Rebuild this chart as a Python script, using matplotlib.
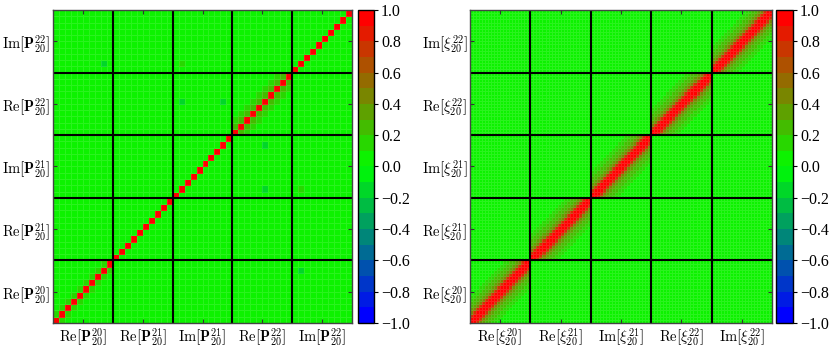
import numpy as np
import matplotlib
matplotlib.use("Agg")
import matplotlib.pyplot as plt
from matplotlib.colors import LinearSegmentedColormap, Normalize

plt.rcParams['mathtext.fontset'] = 'cm'
plt.rcParams['font.family'] = ['Liberation Serif', 'DejaVu Serif']

# ---------------- data ----------------
n_blocks = 5
left_cells_per_block = 10
right_cells_per_block = 20

left_labels = [r'$\mathrm{Re}\left[\mathbf{P}_{20}^{20}\right]$',
               r'$\mathrm{Re}\left[\mathbf{P}_{20}^{21}\right]$',
               r'$\mathrm{Im}\left[\mathbf{P}_{20}^{21}\right]$',
               r'$\mathrm{Re}\left[\mathbf{P}_{20}^{22}\right]$',
               r'$\mathrm{Im}\left[\mathbf{P}_{20}^{22}\right]$']
right_labels = [r'$\mathrm{Re}\left[\xi_{20}^{20}\right]$',
                r'$\mathrm{Re}\left[\xi_{20}^{21}\right]$',
                r'$\mathrm{Im}\left[\xi_{20}^{21}\right]$',
                r'$\mathrm{Re}\left[\xi_{20}^{22}\right]$',
                r'$\mathrm{Im}\left[\xi_{20}^{22}\right]$']

# left matrix: diagonal = 1, per-block near-diagonal correlations (lag1, lag2)
left_block_lag1 = [0.12, 0.05, 0.05, 0.2, 0.08]
left_block_lag2 = [0.07, 0.02, 0.02, 0.11, 0.03]
# isolated off-diagonal entries (row, col, value), mirrored
left_spots_row = [41, 35, 41, 28]
left_spots_col = [8, 21, 21, 35]
left_spots_val = [-0.13, -0.12, 0.11, -0.11]

# right matrix: within-block correlation as function of lag
right_lag_corr = [1.0, 0.92, 0.72, 0.48, 0.34, 0.26, 0.2, 0.15, 0.11,
                  0.08, 0.05, 0.03, 0.01, 0.0]

ticks_cbar = [-1.0, -0.8, -0.6, -0.4, -0.2, 0.0, 0.2, 0.4, 0.6, 0.8, 1.0]


def build_left():
    n = n_blocks * left_cells_per_block
    m = np.zeros((n, n))
    for b in range(n_blocks):
        s = b * left_cells_per_block
        for k in range(left_cells_per_block):
            i = s + k
            m[i, i] = 1.0
            if k + 1 < left_cells_per_block:
                m[i, i + 1] = m[i + 1, i] = left_block_lag1[b]
            if k + 2 < left_cells_per_block:
                m[i, i + 2] = m[i + 2, i] = left_block_lag2[b]
    for r, c, v in zip(left_spots_row, left_spots_col, left_spots_val):
        m[r, c] = v
        m[c, r] = v
    return m


def build_right():
    n = n_blocks * right_cells_per_block
    m = np.zeros((n, n))
    L = len(right_lag_corr)
    for b in range(n_blocks):
        s = b * right_cells_per_block
        for i in range(right_cells_per_block):
            for j in range(right_cells_per_block):
                lag = abs(i - j)
                if lag < L:
                    m[s + i, s + j] = right_lag_corr[lag]
    return m


cmap = LinearSegmentedColormap.from_list('bgr', [(0, 0, 1), (0, 1, 0), (1, 0, 0)], N=20)
norm = Normalize(vmin=-1, vmax=1)

W, H = 830, 348
fig = plt.figure(figsize=(W / 100, H / 100), dpi=100)


def px(x0, y0, x1, y1):
    return [x0 / W, 1 - y1 / H, (x1 - x0) / W, (y1 - y0) / H]


def draw(ax_rect, cb_rect, mat, cpb, labels):
    ax = fig.add_axes(px(*ax_rect))
    n = mat.shape[0]
    mesh = ax.pcolormesh(np.arange(n + 1), np.arange(n + 1), mat, cmap=cmap, norm=norm,
                         edgecolors=(1, 1, 1, 0.12), linewidth=0.4)
    for b in range(1, n_blocks):
        ax.axvline(b * cpb, color='black', lw=1.5)
        ax.axhline(b * cpb, color='black', lw=1.5)
    ax.set_xlim(0, n)
    ax.set_ylim(0, n)
    centers = [(b + 0.5) * cpb for b in range(n_blocks)]
    ax.set_xticks(centers)
    ax.set_yticks(centers)
    ax.set_xticklabels(labels, fontsize=10.5)
    ax.set_yticklabels(labels, fontsize=10.5)
    ax.tick_params(direction='in', length=3, width=0.8, top=True, right=True,
                   color='#333333', pad=2)
    for sp in ax.spines.values():
        sp.set_color('#444444')
        sp.set_linewidth(1.0)
    cax = fig.add_axes(px(*cb_rect))
    cb = fig.colorbar(mesh, cax=cax, ticks=ticks_cbar)
    cb.ax.set_yticklabels([f'{t:.1f}'.replace('-', '\u2212') for t in ticks_cbar], fontsize=11.5)
    cb.ax.tick_params(length=3, width=0.8, pad=2)
    cb.outline.set_linewidth(1.0)


draw((53, 10, 352, 323), (358, 10, 374, 323), build_left(), left_cells_per_block, left_labels)
draw((470, 10, 772, 323), (776, 10, 793, 323), build_right(), right_cells_per_block, right_labels)

fig.savefig('out.png', dpi=100)
